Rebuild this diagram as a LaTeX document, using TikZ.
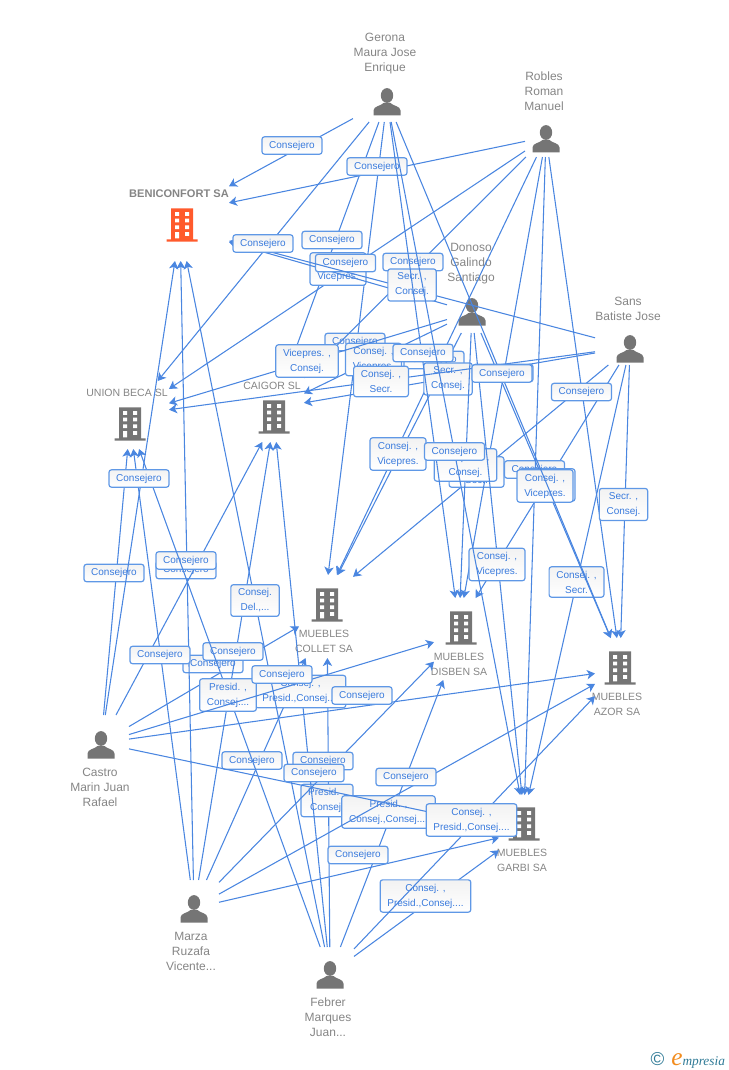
\documentclass[tikz,border=0pt]{standalone}
\usepackage{fontspec}
\setmainfont{Liberation Sans}
\newfontfamily\logofont{Liberation Serif}
\usetikzlibrary{arrows.meta}
\definecolor{linkblue}{HTML}{4A86E0}
\definecolor{tagblue}{HTML}{5F98E6}
\definecolor{tagtext}{HTML}{3A7BDD}
\definecolor{icongray}{HTML}{757575}
\definecolor{labelgray}{HTML}{858585}
\definecolor{firmred}{HTML}{FF5A2C}
\definecolor{logoteal}{HTML}{2F7A96}
\definecolor{logoorange}{HTML}{F28C1E}
\tikzset{
	hit/.style={inner sep=0pt, outer sep=0pt},
	link/.style={draw=linkblue, line width=.8pt, -{Stealth[length=6pt,width=7pt,inset=1.6pt]}},
	tag/.style={draw=tagblue, line width=.9pt, rounded corners=1.8pt, top color=black!5, bottom color=white,
		text=tagtext, align=center, inner xsep=5.4pt, inner ysep=3pt,
		font=\fontsize{7.5}{11.25}\selectfont},
	who/.style={text=labelgray, align=center, inner sep=0pt, font=\fontsize{9}{11.25}\selectfont},
	firm/.style={text=labelgray, align=center, inner sep=0pt, font=\fontsize{7.9}{11.25}\selectfont},
	person/.pic={
		\fill[icongray] (0,-6.5) ellipse (6.2 and 7.4);
		\fill[icongray] (-13.5,13.5)--(-13.5,8.5) .. controls (-13.5,4) and (-6,4) .. (-3.5,1)--(3.5,1)
			.. controls (6,4) and (13.5,4) .. (13.5,8.5)--(13.5,13.5)--cycle;},
	building/.pic={
		\fill[pic actions] (-11,-16.7) rectangle (11,14.3) (-15.5,14.3) rectangle (15.5,16.7);
		\foreach \r in {-13,-6.4,0.3}{
			\fill[white] (-7,\r) rectangle (-3,\r+3.8) (3,\r) rectangle (7,\r+3.8);}
		\fill[white] (-7,7) rectangle (-3,13.3) (3,7) rectangle (7,10.8);}
}
\begin{document}
\begin{tikzpicture}[x=.75pt, y=-.75pt, line join=round]
	\useasboundingbox (0,0) rectangle (728,1070);
	% persons and firms: name/x/y/half width/half height; the b ones take the links from below
	\foreach \n/\x/\y/\w/\h in {G/387/100/34/22, R/546/137/21/20, D/472/312/25/21, S/630/347/35/18,
		C/101/743/28/28, M/194/908/25/28, F/330/974/24/27,
		BENI/180/213/49/48, BENIb/180/228/49/33, UNION/130/415/39/34, UNIONb/130/424/39/25,
		CAIGOR/274/408/30/34, CAIGORb/274/420/30/22, COLLET/325/600/28/25, COLLETb/327/610/28/48,
		DISBEN/459/625/27/27, DISBENb/461/634/27/46, AZOR/620/660/25/22, AZORb/620/670/25/32,
		GARBI/524/815/25/20, GARBIb/524/832/25/41}{
		\node[hit, minimum width=2*\w*.75pt, minimum height=2*\h*.75pt] (\n) at (\x,\y) {};}
	\foreach \x/\y in {387/102, 546/139, 472/312, 630/349, 101/745, 194/909, 330/975}{
		\path (\x,\y) pic {person};}
	\foreach \x/\y in {130/424, 274/417, 327/605, 461/628, 620/668, 524/824}{
		\path[fill=icongray] (\x,\y) pic {building};}
	\path[fill=firmred] (182,225) pic {building};
	\node[who] (tG) at (385,54) {Gerona\\Maura Jose\\Enrique};
	\node[who] (tR) at (544,91) {Robles\\Roman\\Manuel};
	\node[who] (tD) at (471,264) {Donoso\\Galindo\\Santiago};
	\node[who] (tS) at (628,308.5) {Sans\\Batiste Jose};
	\node[who] (tC) at (100,787) {Castro\\Marin Juan\\Rafael};
	\node[who] (tM) at (191,951) {Marza\\Ruzafa\\Vicente...};
	\node[who] (tF) at (328,1017) {Febrer\\Marques\\Juan...};
	\node[firm, font=\fontsize{8.3}{10}\selectfont\bfseries] (tBENI) at (179,194) {BENICONFORT SA};
	\node[firm] (tUNION) at (127,393) {UNION BECA SL};
	\node[firm] (tCAIGOR) at (272,386) {CAIGOR SL};
	\node[firm] (tCOLLET) at (324,641.5) {MUEBLES\\COLLET SA};
	\node[firm] (tDISBEN) at (459,664.5) {MUEBLES\\DISBEN SA};
	\node[firm] (tAZOR) at (617,704.5) {MUEBLES\\AZOR SA};
	\node[firm] (tGARBI) at (522,860.5) {MUEBLES\\GARBI SA};
	% one link and its tag, in stacking order
	\foreach \a/\b/\x/\y/\lab in {
		G/COLLET/355/342/Consejero,
		R/COLLET/434/360/Consejero,
		D/COLLET/398/454/{Consej. ,\\Vicepres.},
		S/COLLET/476.5/472/{Consej. ,\\Secr.},
		C/COLLETb/213/664/Consejero,
		M/COLLETb/252/760.5/Consejero,
		F/COLLETb/327/800.5/{Presid. ,\\Consej.},
		M/BENIb/186/570/Consejero,
		G/CAIGOR/332/240/Consejero,
		R/CAIGOR/413/262/Consejero,
		D/CAIGOR/373.5/359.5/{Consej. ,\\Vicepres.},
		S/CAIGOR/448/379/{Secr. ,\\Consej.},
		C/CAIGORb/186/560.5/Consejero,
		M/CAIGORb/233/651.5/Consejero,
		F/CAIGORb/300.5/691.5/{Consej. ,\\Presid.,Consej....},
		R/UNION/338/269/{Consej. ,\\Vicepres.},
		D/UNION/307/361/{Vicepres. ,\\Consej.},
		S/UNION/381/381.5/{Consej. ,\\Secr.},
		C/UNIONb/114/573/Consejero,
		M/UNIONb/160/655/Consejero,
		F/UNIONb/228/695/{Presid. ,\\Consej....},
		G/BENI/292/145.5/Consejero,
		R/BENI/377/166.5/Consejero,
		D/BENIb/345.5/263/Consejero,
		S/BENIb/412/285/{Secr. ,\\Consej.},
		C/BENIb/139/478.5/Consejero,
		F/BENIb/255/600.5/{Consej.\\Del.,...},
		G/UNION/263/243.5/Consejero,
		R/DISBEN/503/373/Consejero,
		D/DISBEN/465.5/465/{Vicepres. ,\\Consej.},
		S/DISBEN/534.5/469.5/Consejero,
		G/DISBEN/423/353/Consejero,
		C/DISBENb/282/674.5/Consejero,
		M/DISBENb/323/761/Consejero,
		F/DISBENb/388.5/812/{Presid. ,\\Consej.,Consej....},
		R/GARBI/547/485/{Consej. ,\\Vicepres.},
		D/GARBI/497/564.5/{Consej. ,\\Vicepres.},
		S/GARBI/576.5/582/{Consej. ,\\Secr.},
		G/GARBI/454.5/451.5/Consejero,
		C/GARBIb/314/773/Consejero,
		M/GARBIb/358/855/Consejero,
		F/GARBIb/425.5/896/{Consej. ,\\Presid.,Consej....},
		R/AZOR/581.5/392/Consejero,
		D/AZOR/545/486/{Consej. ,\\Vicepres.},
		S/AZOR/623.5/504.5/{Secr. ,\\Consej.},
		G/AZOR/502/373.5/Consejero,
		C/AZORb/362/695.5/Consejero,
		M/AZORb/406/777/Consejero,
		F/AZORb/471.5/820/{Consej. ,\\Presid.,Consej....}}{
		\draw[link] (\a)--(\b);
		\node[tag] (\a\b) at (\x,\y) {\lab};}
	% logo
	\node[hit, text=logoteal, font=\fontsize{14}{14}\selectfont] (copy) at (657.5,1059) {\char"00A9};
	\node[hit, text=logoorange, font=\logofont\itshape\fontsize{19}{19}\selectfont, anchor=base] (logoe) at (677,1065) {e};
	\node[hit, text=logoteal, font=\logofont\itshape\fontsize{10}{10}\selectfont, anchor=base west] (logotxt) at (682.5,1065) {mpresia};
\end{tikzpicture}
\end{document}
